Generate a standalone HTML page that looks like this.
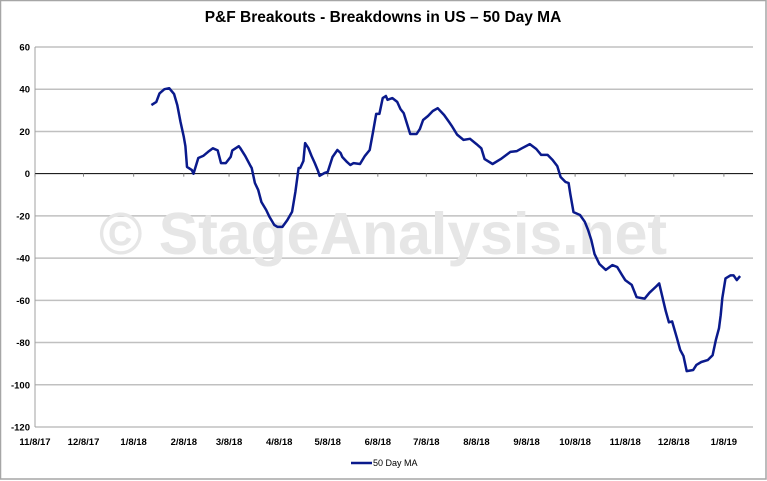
<!DOCTYPE html>
<html><head><meta charset="utf-8"><style>
html,body{margin:0;padding:0;background:#fff;}
svg{display:block;font-family:"Liberation Sans",sans-serif;}
</style></head><body>
<svg id="chart" width="767" height="481" viewBox="0 0 767 481">
<rect x="0.5" y="0.5" width="765.5" height="478.5" fill="#fff" stroke="#a6a6a6" stroke-width="1.5"/>
<text x="383" y="22" text-anchor="middle" font-size="15.5" font-weight="bold" fill="#000">P&amp;F Breakouts - Breakdowns in US – 50 Day MA</text>
<g id="grid"></g>
<text x="383" y="254" text-anchor="middle" font-size="59" font-weight="bold" fill="#e6e6e6">© StageAnalysis.net</text>
<g id="axes"></g>
<g id="series"></g>
<g>
<line x1="351" y1="463" x2="372" y2="463" stroke="#0a1a8c" stroke-width="2.5"/>
<text x="373" y="466" font-size="9" fill="#000">50 Day MA</text>
</g>
</svg>
<script>
const days = [72,75,77,80,83,86,88,90,92,93,94,97,98,101,104,107,110,113,115,118,121,122,126,127,130,133,134,136,138,140,143,145,148,150,153,156,159,161,163,164,166,167,169,171,173,175,176,179,181,184,187,189,190,193,195,197,201,204,207,209,211,213,215,217,218,221,224,226,228,232,236,238,240,243,246,249,253,256,258,261,265,269,273,276,278,283,288,294,298,301,306,310,313,317,320,323,325,328,330,331,333,337,340,342,344,346,349,353,357,360,363,365,369,372,377,380,384,386,390,392,394,397,399,401,403,407,409,412,416,419,421,423,424,425,427,430,432,434,436];
const values = [32.5,34,38,40,40.5,37.7,32.5,24.5,17.4,13,3.2,1.7,0,7.4,8.4,10.3,12,11,5,5,8,11,13,12,8.4,4,2.7,-4.4,-7.7,-13.4,-17.2,-20.5,-24.3,-25.2,-25.2,-22,-18,-8.6,2.7,2.7,6,14.5,12.2,8.4,5,1.3,-1,0.3,0.8,7.9,11.2,9.8,7.9,5.5,4.1,5,4.6,8.4,11.2,19.7,28.3,28.3,35.8,36.8,35,35.8,34,30.6,28.7,18.8,18.8,21.2,25.4,27.3,29.7,31,27.8,24.5,22.3,18.5,16,16.5,14,12,6.9,4.6,6.9,10.3,10.7,12,14,11.7,8.9,8.9,6.5,3.6,-1.6,-3.9,-4.4,-9.6,-18.2,-19.6,-22.8,-26.7,-31.4,-38,-42.8,-45.6,-43.3,-44.2,-48,-50.4,-52.7,-58.5,-59.2,-56.4,-53.5,-52,-65,-70.4,-70,-78,-83.5,-86.4,-93.5,-93,-90.6,-89.2,-88.3,-86,-78.9,-73.2,-67,-59,-49.6,-48.2,-48.2,-50.4,-48.5];
const yTicks = [60,40,20,0,-20,-40,-60,-80,-100,-120];
const xTickDays = [0,30,61,92,120,151,181,212,242,273,304,334,365,395,426];
const xTickLabels = ["11/8/17","12/8/17","1/8/18","2/8/18","3/8/18","4/8/18","5/8/18","6/8/18","7/8/18","8/8/18","9/8/18","10/8/18","11/8/18","12/8/18","1/8/19"];

const X0=35, X1=753, Y0=47, Y1=427, DMAX=444;
const xs = d => X0 + d*(X1-X0)/DMAX;
const ys = v => Y0 + (60-v)*(Y1-Y0)/180;
const NS="http://www.w3.org/2000/svg";
const grid=document.getElementById('grid'), axes=document.getElementById('axes'), series=document.getElementById('series');
function mk(tag, attrs, parent){const e=document.createElementNS(NS,tag);for(const k in attrs)e.setAttribute(k,attrs[k]);parent.appendChild(e);return e;}

yTicks.forEach(v=>{
  if(v!==0){
    const g=mk('line',{x1:X0,x2:X1,y1:ys(v),y2:ys(v),stroke:'#c0c0c0','stroke-width':1.5},grid);
    
    
  }
  const t=mk('text',{x:X0-5,y:ys(v)+3.5,'text-anchor':'end','font-size':9.5,'font-weight':'bold',fill:'#000'},axes);
  t.textContent=v;
  
  
});
const ya=mk('line',{x1:X0,x2:X0,y1:Y0,y2:Y1,stroke:'#a0a0a0','stroke-width':1},axes);


const za=mk('line',{x1:X0,x2:X1,y1:ys(0),y2:ys(0),stroke:'#000','stroke-width':1},axes);


xTickDays.forEach((d,i)=>{
  const tk=mk('line',{x1:xs(d),x2:xs(d),y1:ys(0),y2:ys(0)+3,stroke:'#808080','stroke-width':1},axes);
  
  
  const t=mk('text',{x:xs(d),y:445,'text-anchor':'middle','font-size':9.5,'font-weight':'bold',fill:'#000'},axes);
  t.textContent=xTickLabels[i];
  
  
});
const pts=days.map((d,i)=>xs(d).toFixed(1)+','+ys(values[i]).toFixed(1)).join(' ');
const pl=mk('polyline',{points:pts,fill:'none',stroke:'#0a1a8c','stroke-width':2.5,'stroke-linejoin':'round'},series);


</script>
</body></html>
